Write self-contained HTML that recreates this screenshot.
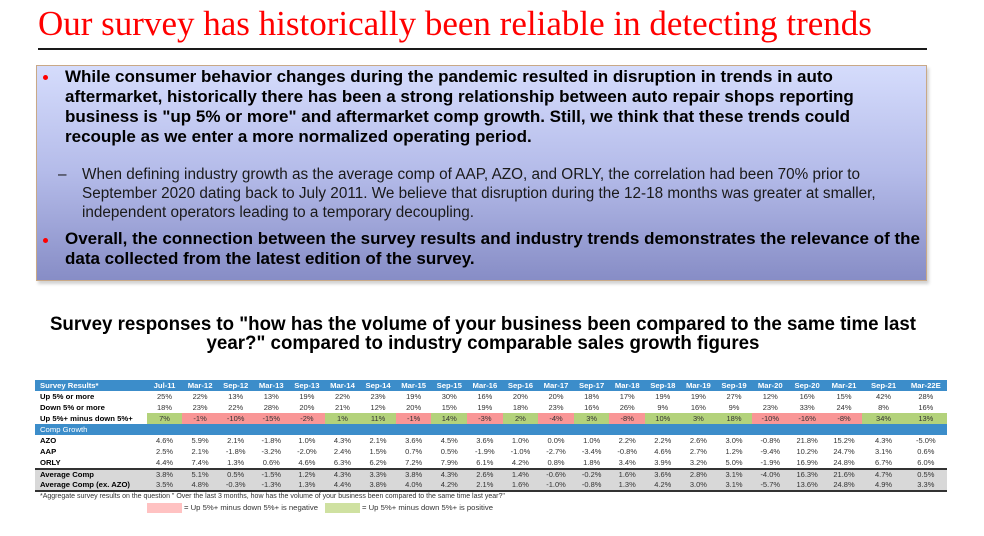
<!DOCTYPE html>
<html>
<head>
<meta charset="utf-8">
<style>
html,body{margin:0;padding:0;}
body{width:984px;height:536px;position:relative;overflow:hidden;background:#fff;font-family:"Liberation Sans",sans-serif;}
.abs{position:absolute;white-space:nowrap;}
#title{left:38px;top:6px;font-family:"Liberation Serif",serif;font-size:35px;line-height:35px;color:#ff0000;}
#rule{left:38px;top:48px;width:889px;height:2px;background:#1a1a1a;}
#box{left:36px;top:65px;width:889px;height:214px;border:1px solid #c9a987;background:linear-gradient(#d5dcfc 0%,#b4bbe9 50%,#878dc6 100%);box-shadow:2px 3px 3px rgba(0,0,0,0.18);}
.dot{position:absolute;width:5px;height:5px;border-radius:50%;background:#ff0000;}
.b{font-weight:bold;font-size:17px;line-height:20px;color:#000;left:65px;}
.s{font-size:15.3px;line-height:19px;color:#1a1a1a;left:82px;}
.sub{font-weight:bold;font-size:19.5px;line-height:19px;color:#000;left:0;width:966px;text-align:center;transform:scaleX(0.96);transform-origin:483px 50%;}
table{position:absolute;left:35px;top:380px;border-collapse:collapse;table-layout:fixed;width:912px;font-family:"Liberation Sans",sans-serif;font-size:7.5px;color:#333;}
td{padding:0;height:11px;line-height:11px;text-align:center;white-space:nowrap;overflow:hidden;}
td.l{text-align:left;padding-left:5px;font-weight:bold;color:#000;font-size:7.7px;}
tr.h td{background:#3c8dca;color:#fff;font-weight:bold;font-size:7.7px;}
tr.h td.cg{font-weight:normal;}
tr.ln td{height:2px;line-height:0;font-size:0;background:#333;}
tr.g td{background:#d8d8d8;height:10px;line-height:10px;}
td.G{background:#b3d27b;}
td.R{background:#f99696;}
#foot{left:40px;top:492px;font-size:7.0px;line-height:10px;color:#333;}
.lg{position:absolute;top:503px;height:9.6px;}
.lt{top:502px;font-size:7.7px;line-height:11px;color:#333;}
</style>
</head>
<body>
<div class="abs" id="title">Our survey has historically been reliable in detecting trends</div>
<div class="abs" id="rule"></div>
<div class="abs" id="box"></div>
<div class="dot" style="left:43px;top:75px;"></div>
<div class="abs b" style="top:67.4px;">While consumer behavior changes during the pandemic resulted in disruption in trends in auto</div>
<div class="abs b" style="top:87.4px;">aftermarket, historically there has been a strong relationship between auto repair shops reporting</div>
<div class="abs b" style="top:107.4px;">business is "up 5% or more" and aftermarket comp growth. Still, we think that these trends could</div>
<div class="abs b" style="top:127.4px;">recouple as we enter a more normalized operating period.</div>
<div class="abs" style="left:58px;top:165.2px;font-size:15.3px;line-height:19px;color:#1a1a1a;">–</div>
<div class="abs s" style="top:165.2px;">When defining industry growth as the average comp of AAP, AZO, and ORLY, the correlation had been 70% prior to</div>
<div class="abs s" style="top:184.2px;">September 2020 dating back to July 2011. We believe that disruption during the 12-18 months was greater at smaller,</div>
<div class="abs s" style="top:203.2px;">independent operators leading to a temporary decoupling.</div>
<div class="dot" style="left:43px;top:237.5px;"></div>
<div class="abs b" style="top:229.4px;">Overall, the connection between the survey results and industry trends demonstrates the relevance of the</div>
<div class="abs b" style="top:249.4px;">data collected from the latest edition of the survey.</div>

<div class="abs sub" style="top:315px;">Survey responses to "how has the volume of your business been compared to the same time last</div>
<div class="abs sub" style="top:334px;">year?" compared to industry comparable sales growth figures</div>

<table>
<colgroup>
<col style="width:111.7px">
<col style="width:35.6px"><col style="width:35.6px"><col style="width:35.6px"><col style="width:35.6px"><col style="width:35.6px"><col style="width:35.6px"><col style="width:35.6px"><col style="width:35.6px"><col style="width:35.6px"><col style="width:35.6px"><col style="width:35.6px"><col style="width:35.6px"><col style="width:35.6px"><col style="width:35.6px"><col style="width:35.6px"><col style="width:35.6px"><col style="width:35.6px">
<col style="width:36.9px"><col style="width:36.9px"><col style="width:36.9px">
<col style="width:42.2px"><col style="width:42.2px">
</colgroup>
<tr class="h"><td class="l">Survey Results*</td><td>Jul-11</td><td>Mar-12</td><td>Sep-12</td><td>Mar-13</td><td>Sep-13</td><td>Mar-14</td><td>Sep-14</td><td>Mar-15</td><td>Sep-15</td><td>Mar-16</td><td>Sep-16</td><td>Mar-17</td><td>Sep-17</td><td>Mar-18</td><td>Sep-18</td><td>Mar-19</td><td>Sep-19</td><td>Mar-20</td><td>Sep-20</td><td>Mar-21</td><td>Sep-21</td><td>Mar-22E</td></tr>
<tr><td class="l">Up 5% or more</td><td>25%</td><td>22%</td><td>13%</td><td>13%</td><td>19%</td><td>22%</td><td>23%</td><td>19%</td><td>30%</td><td>16%</td><td>20%</td><td>20%</td><td>18%</td><td>17%</td><td>19%</td><td>19%</td><td>27%</td><td>12%</td><td>16%</td><td>15%</td><td>42%</td><td>28%</td></tr>
<tr><td class="l">Down 5% or more</td><td>18%</td><td>23%</td><td>22%</td><td>28%</td><td>20%</td><td>21%</td><td>12%</td><td>20%</td><td>15%</td><td>19%</td><td>18%</td><td>23%</td><td>16%</td><td>26%</td><td>9%</td><td>16%</td><td>9%</td><td>23%</td><td>33%</td><td>24%</td><td>8%</td><td>16%</td></tr>
<tr><td class="l">Up 5%+ minus down 5%+</td><td class="G">7%</td><td class="R">-1%</td><td class="R">-10%</td><td class="R">-15%</td><td class="R">-2%</td><td class="G">1%</td><td class="G">11%</td><td class="R">-1%</td><td class="G">14%</td><td class="R">-3%</td><td class="G">2%</td><td class="R">-4%</td><td class="G">3%</td><td class="R">-8%</td><td class="G">10%</td><td class="G">3%</td><td class="G">18%</td><td class="R">-10%</td><td class="R">-16%</td><td class="R">-8%</td><td class="G">34%</td><td class="G">13%</td></tr>
<tr class="h"><td class="l cg">Comp Growth</td><td></td><td></td><td></td><td></td><td></td><td></td><td></td><td></td><td></td><td></td><td></td><td></td><td></td><td></td><td></td><td></td><td></td><td></td><td></td><td></td><td></td><td></td></tr>
<tr><td class="l">AZO</td><td>4.6%</td><td>5.9%</td><td>2.1%</td><td>-1.8%</td><td>1.0%</td><td>4.3%</td><td>2.1%</td><td>3.6%</td><td>4.5%</td><td>3.6%</td><td>1.0%</td><td>0.0%</td><td>1.0%</td><td>2.2%</td><td>2.2%</td><td>2.6%</td><td>3.0%</td><td>-0.8%</td><td>21.8%</td><td>15.2%</td><td>4.3%</td><td>-5.0%</td></tr>
<tr><td class="l">AAP</td><td>2.5%</td><td>2.1%</td><td>-1.8%</td><td>-3.2%</td><td>-2.0%</td><td>2.4%</td><td>1.5%</td><td>0.7%</td><td>0.5%</td><td>-1.9%</td><td>-1.0%</td><td>-2.7%</td><td>-3.4%</td><td>-0.8%</td><td>4.6%</td><td>2.7%</td><td>1.2%</td><td>-9.4%</td><td>10.2%</td><td>24.7%</td><td>3.1%</td><td>0.6%</td></tr>
<tr><td class="l">ORLY</td><td>4.4%</td><td>7.4%</td><td>1.3%</td><td>0.6%</td><td>4.6%</td><td>6.3%</td><td>6.2%</td><td>7.2%</td><td>7.9%</td><td>6.1%</td><td>4.2%</td><td>0.8%</td><td>1.8%</td><td>3.4%</td><td>3.9%</td><td>3.2%</td><td>5.0%</td><td>-1.9%</td><td>16.9%</td><td>24.8%</td><td>6.7%</td><td>6.0%</td></tr>
<tr class="ln"><td colspan="23"></td></tr>
<tr class="g"><td class="l">Average Comp</td><td>3.8%</td><td>5.1%</td><td>0.5%</td><td>-1.5%</td><td>1.2%</td><td>4.3%</td><td>3.3%</td><td>3.8%</td><td>4.3%</td><td>2.6%</td><td>1.4%</td><td>-0.6%</td><td>-0.2%</td><td>1.6%</td><td>3.6%</td><td>2.8%</td><td>3.1%</td><td>-4.0%</td><td>16.3%</td><td>21.6%</td><td>4.7%</td><td>0.5%</td></tr>
<tr class="g"><td class="l">Average Comp (ex. AZO)</td><td>3.5%</td><td>4.8%</td><td>-0.3%</td><td>-1.3%</td><td>1.3%</td><td>4.4%</td><td>3.8%</td><td>4.0%</td><td>4.2%</td><td>2.1%</td><td>1.6%</td><td>-1.0%</td><td>-0.8%</td><td>1.3%</td><td>4.2%</td><td>3.0%</td><td>3.1%</td><td>-5.7%</td><td>13.6%</td><td>24.8%</td><td>4.9%</td><td>3.3%</td></tr>
<tr class="ln"><td colspan="23"></td></tr>
</table>

<div class="abs" id="foot">*Aggregate survey results on the question " Over the last 3 months, how has the volume of your business been compared to the same time last year?"</div>
<div class="lg" style="left:146.7px;width:35.3px;background:#ffc2c2;"></div>
<div class="abs lt" style="left:184px;">= Up 5%+ minus down 5%+ is negative</div>
<div class="lg" style="left:324.5px;width:35.5px;background:#cfe1a1;"></div>
<div class="abs lt" style="left:362px;">= Up 5%+ minus down 5%+ is positive</div>
</body>
</html>
